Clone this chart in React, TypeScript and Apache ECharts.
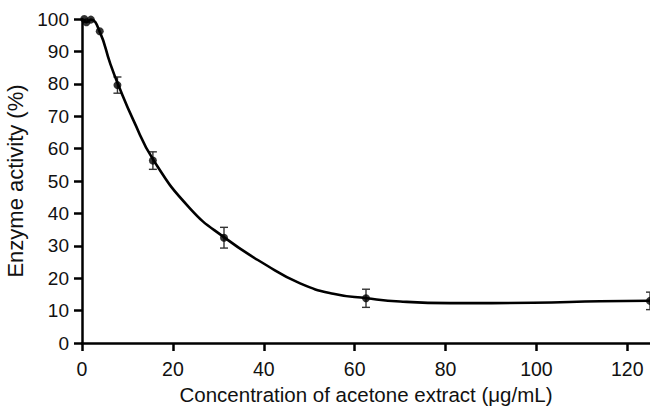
import React, { useEffect, useRef } from "react";
import * as echarts from "echarts";

// measured points (concentration, mean activity, error)
const concentrations = [0.49, 0.98, 1.95, 3.9, 7.8, 15.6, 31.25, 62.5, 125];
const activity = [100, 99, 99.8, 96.2, 79.6, 56.3, 32.5, 13.8, 13];
const errors = [0, 0, 0, 0, 2.5, 2.7, 3.2, 2.8, 2.7];
// fitted curve
const fitX = [0.49, 0.98, 1.95, 3.9, 6.2, 8.0, 11.3, 15.8, 23.8, 31.3, 40.6, 48, 55.3, 62.7, 70, 81, 99.3, 114, 125];
const fitY = [100, 99, 99.8, 96.1, 86.3, 79.6, 68.8, 56.3, 41.5, 32.6, 24, 18.4, 15.2, 13.8, 12.8, 12.3, 12.4, 12.9, 13.05];
const xTicks = [0, 20, 40, 60, 80, 100, 120];
const yTicks = [0, 10, 20, 30, 40, 50, 60, 70, 80, 90, 100];

export default function App() {
  const ref = useRef<HTMLDivElement>(null);
  useEffect(() => {
    if (!ref.current) return;
    const chart = echarts.init(ref.current, undefined, { renderer: "svg" });
    const font = "Liberation Sans, Arial, Helvetica, sans-serif";
    const pts = concentrations.map((c, i) => [c, activity[i]]);
    const fit = fitX.map((x, i) => [x, fitY[i]]);
    const errData = concentrations
      .map((c, i) => [c, activity[i] - errors[i], activity[i] + errors[i]])
      .filter((d, i) => errors[i] > 0);
    chart.setOption({
      animation: false,
      grid: {
        left: 82,
        top: 19,
        right: 0,
        bottom: 63,
        containLabel: false,
        outerBoundsMode: "none",
      },
      xAxis: {
        type: "value",
        min: 0,
        max: 125,
        interval: 20,
        name: "Concentration of acetone extract (μg/mL)",
        nameLocation: "middle",
        nameGap: 40,
        nameTextStyle: { fontFamily: font, fontSize: 20.5, lineHeight: 20, color: "#111" },
        axisLine: { show: true, lineStyle: { color: "#000", width: 2.5 } },
        axisTick: { show: true, length: 8, lineStyle: { color: "#000", width: 2.5 } },
        axisLabel: {
          fontFamily: font,
          fontSize: 19.5,
          color: "#111",
          margin: 16,
          showMaxLabel: false,
          formatter: (v: number) => (xTicks.includes(v) ? String(v) : ""),
        },
        splitLine: { show: false },
      },
      yAxis: {
        type: "value",
        min: 0,
        max: 100,
        interval: 10,
        name: "Enzyme activity (%)",
        nameLocation: "middle",
        nameGap: 56,
        nameTextStyle: { fontFamily: font, fontSize: 22, color: "#111" },
        axisLine: { show: true, lineStyle: { color: "#000", width: 2.5 } },
        axisTick: { show: true, length: 8, lineStyle: { color: "#000", width: 2.5 } },
        axisLabel: {
          fontFamily: font,
          fontSize: 19,
          color: "#111",
          margin: 13,
          formatter: (v: number) => (yTicks.includes(v) ? String(v) : ""),
        },
        splitLine: { show: false },
      },
      series: [
        {
          type: "line",
          data: fit,
          smooth: 0.5,
          showSymbol: false,
          symbol: "none",
          lineStyle: { color: "#000", width: 2.6 },
          clip: false,
          z: 3,
        },
        {
          type: "scatter",
          data: pts,
          symbol: "circle",
          symbolSize: 8,
          itemStyle: { color: "#000" },
          clip: false,
          z: 4,
        },
        {
          type: "custom",
          data: errData,
          clip: false,
          z: 2,
          renderItem: (params: any, api: any) => {
            const x = api.value(0);
            const lo = api.coord([x, api.value(1)]);
            const hi = api.coord([x, api.value(2)]);
            const w = 4;
            const style = { stroke: "#333", lineWidth: 1.4 };
            return {
              type: "group",
              children: [
                { type: "line", shape: { x1: lo[0], y1: lo[1], x2: hi[0], y2: hi[1] }, style },
                { type: "line", shape: { x1: lo[0] - w, y1: lo[1], x2: lo[0] + w, y2: lo[1] }, style },
                { type: "line", shape: { x1: hi[0] - w, y1: hi[1], x2: hi[0] + w, y2: hi[1] }, style },
              ],
            };
          },
        },
      ],
    });
    return () => chart.dispose();
  }, []);
  return (
    <div
      ref={ref}
      style={{ position: "absolute", left: 0, top: 0, width: 650, height: 406 }}
    />
  );
}
